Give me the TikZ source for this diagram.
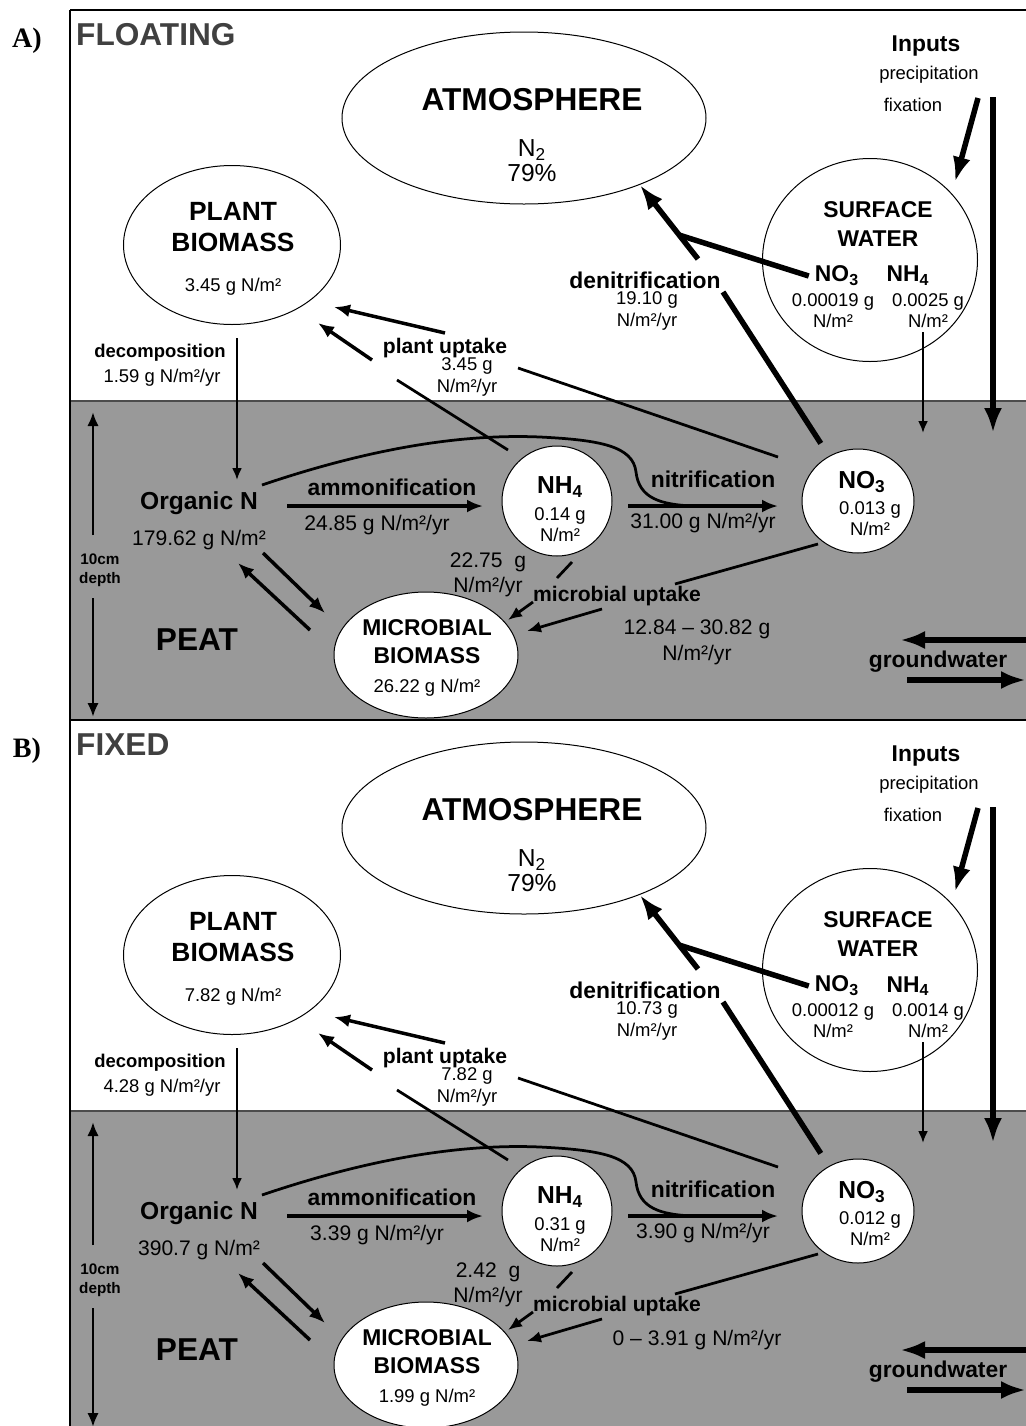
\documentclass[tikz,border=0pt]{standalone}
\usepackage{fontspec}
\setmainfont{Liberation Sans}
\newfontfamily\serifbold{Liberation Serif}
\usetikzlibrary{arrows.meta,shapes.geometric}

\tikzset{
  pool/.style={draw, ellipse, line width=0.2mm, inner sep=0pt},
  soilpool/.style={pool, fill=white},
  bigflow/.style={line width=1.1mm, >={Latex[length=5mm,width=3.6mm]}},
  flow/.style={line width=0.7mm, >={Latex[length=3.2mm,width=2.6mm]}},
  link/.style={line width=0.55mm, >={Latex[length=2.8mm,width=2.3mm]}},
  thinflow/.style={line width=0.45mm, >={Latex[length=2.4mm,width=2mm]}},
  curvy/.style={line width=0.55mm},
  hd/.style={font=\fontsize{18}{21}\selectfont\bfseries},
  bigname/.style={font=\fontsize{15}{17.6}\selectfont\bfseries, align=center},
  subhd/.style={font=\fontsize{13}{16}\selectfont\bfseries, align=center},
  poolname/.style={font=\fontsize{14}{16}\selectfont\bfseries},
  procname/.style={font=\fontsize{12}{14}\selectfont\bfseries},
  gas/.style={font=\fontsize{14}{16}\selectfont},
  rate/.style={font=\fontsize{12}{14.5}\selectfont, align=center},
  val/.style={font=\fontsize{10.5}{12}\selectfont, align=center}
}

% one panel of the nitrogen budget, values come from \p... macros
\newcommand{\nfpanel}{%
  % soil layer and frame
  \fill[black!40] (70,401) rectangle (1026,720);
  \draw[black!70, line width=0.25mm] (70,401) -- (1026,401);
  \draw[line width=0.25mm] (70,10) -- (1026,10);
  \node[font=\serifbold\fontsize{16}{18}\selectfont\bfseries] (tag) at (27,41) {\pTag};
  \node[hd, text=black!75, anchor=west] (title) at (70,35) {\pTitle};
  % pools above ground
  \node[pool, minimum width=72.8mm, minimum height=34.4mm] (atm) at (524,118) {};
  \node[hd] (atm-t) at (532,100) {ATMOSPHERE};
  \node[gas] (atm-n) at (532,150) {N\textsubscript{2}};
  \node[gas] (atm-p) at (532,173) {79\%};
  \node[pool, minimum width=43.4mm, minimum height=31.8mm] (plant) at (232,245) {};
  \node[bigname] (plant-t) at (233,227) {PLANT\\BIOMASS};
  \node[val] (plant-v) at (233,287) {\pPlant\ g N/m²};
  \node[pool, minimum width=43mm, minimum height=40.6mm] (sw) at (870,260) {};
  \node[subhd] (sw-t) at (878,224) {SURFACE\\WATER};
  \node[subhd] (sw-no3) at (837,276) {NO\textsubscript{3}};
  \node[subhd] (sw-nh4) at (908,276) {NH\textsubscript{4}};
  \node[val] (sw-no3v) at (833,311) {\pSwNO\ g\\N/m²};
  \node[val] (sw-nh4v) at (928,311) {\pSwNH\ g\\N/m²};
  \node[subhd] (inp) at (926,46) {Inputs};
  \node[val] (inp-p) at (929,75) {precipitation};
  \node[val] (inp-f) at (913,105) {fixation};
  % pools in the peat
  \node[poolname] (orgn) at (199,503) {Organic N};
  \node[rate] (orgn-v) at (199,540) {\pOrgN\ g N/m²};
  \node[soilpool, minimum size=22mm] (nh4) at (557,501) {};
  \node[poolname] (nh4-t) at (560,487) {NH\textsubscript{4}};
  \node[val] (nh4-v) at (560,525) {\pNH\ g\\N/m²};
  \node[soilpool, minimum width=22.4mm, minimum height=20.8mm] (no3) at (858,501) {};
  \node[poolname] (no3-t) at (862,482) {NO\textsubscript{3}};
  \node[val] (no3-v) at (870,519) {\pNO\ g\\N/m²};
  \node[soilpool, minimum width=36.8mm, minimum height=25.2mm] (mic) at (426,655) {};
  \node[subhd] (mic-t) at (427,642) {MICROBIAL\\BIOMASS};
  \node[val] (mic-v) at (427,688) {\pMic\ g N/m²};
  \node[hd] (peat) at (197,640) {PEAT};
  \node[font=\fontsize{8.7}{10.8}\selectfont\bfseries, align=center] (depth) at (100,570) {10cm\\depth};
  % process labels
  \node[val, font=\fontsize{10.5}{12}\selectfont\bfseries] (dec) at (160,353) {decomposition};
  \node[val] (dec-v) at (162,378) {\pDec\ g N/m²/yr};
  \node[procname] (upt) at (445,348) {plant uptake};
  \node[val] (upt-v) at (467,377) {\pUpt\ g\\N/m²/yr};
  \node[subhd] (den) at (645,280) {denitrification};
  \node[val] (den-v) at (647,311) {\pDen\ g\\N/m²/yr};
  \node[subhd] (amm) at (392,487) {ammonification};
  \node[rate] (amm-v) at (377,525) {\pAmm\ g N/m²/yr};
  \node[subhd] (nit) at (713,479) {nitrification};
  \node[rate] (nit-v) at (703,523) {\pNit\ g N/m²/yr};
  \node[rate] (nhm-v) at (488,575) {\pNhMic\ \ g\\N/m²/yr};
  \node[procname] (mup) at (617,596) {microbial uptake};
  \node[rate, anchor=north] (nom-v) at (697,614) {\pNoMic};
  \node[subhd] (gw) at (938,662) {groundwater};
  % free ends of the flows
  \coordinate (in-a) at (978,98);  \coordinate (in-b) at (955,182);
  \coordinate (in-c) at (993,97);  \coordinate (in-d) at (993,433);
  \coordinate (sw-a) at (923,332); \coordinate (sw-b) at (923,433);
  \coordinate (den-a) at (723,292); \coordinate (den-b) at (698,259);
  \coordinate (den-j) at (679,235);
  \coordinate (upt-a) at (778,457); \coordinate (upt-b) at (518,368);
  \coordinate (upt-c) at (445,333); \coordinate (upt-d) at (334,307);
  \coordinate (upt-e) at (508,450); \coordinate (upt-f) at (397,380);
  \coordinate (upt-g) at (372,360); \coordinate (upt-h) at (318,323);
  \coordinate (dec-a) at (237,338); \coordinate (dec-b) at (237,480);
  \coordinate (amm-a) at (287,506); \coordinate (amm-b) at (483,506);
  \coordinate (nit-a) at (628,506); \coordinate (nit-b) at (778,506);
  \coordinate (dir-a) at (262,485); \coordinate (dir-b) at (695,506);
  \coordinate (om-a) at (263,553); \coordinate (om-b) at (325,613);
  \coordinate (mo-a) at (310,630); \coordinate (mo-b) at (238,563);
  \coordinate (nm-a) at (572,562); \coordinate (nm-b) at (557,578);
  \coordinate (nm-c) at (533,602); \coordinate (nm-d) at (508,620);
  \coordinate (mu-a) at (818,544); \coordinate (mu-b) at (675,584);
  \coordinate (mu-c) at (602,609); \coordinate (mu-d) at (527,631);
  \coordinate (gw-a) at (1026,640); \coordinate (gw-b) at (900,640);
  \coordinate (gw-c) at (907,680); \coordinate (gw-d) at (1026,680);
  \coordinate (dp-a) at (93,535); \coordinate (dp-b) at (93,412);
  \coordinate (dp-c) at (93,598); \coordinate (dp-d) at (93,717);
  % flows
  \draw[bigflow,->] (in-a) -- (in-b);
  \draw[bigflow,->] (in-c) -- (in-d);
  \draw[thinflow,->] (sw-a) -- (sw-b);
  \draw[bigflow, shorten <=3mm] (no3) -- (den-a);
  \draw[bigflow,->] (den-b) -- (atm.-30);
  \draw[bigflow] (sw-no3.west) -- (den-j);
  \draw[link] (upt-a) -- (upt-b);
  \draw[flow,->] (upt-c) -- (upt-d);
  \draw[link] (upt-e) -- (upt-f);
  \draw[flow,->] (upt-g) -- (upt-h);
  \draw[thinflow,->] (dec-a) -- (dec-b);
  \draw[flow,->] (amm-a) -- (amm-b);
  \draw[flow,->] (nit-a) -- (nit-b);
  \draw[curvy] (dir-a) .. controls (380,445) and (470,434) .. (540,437)
    .. controls (600,440) and (633,446) .. (636,472)
    .. controls (639,498) and (660,505) .. (dir-b);
  \draw[flow,->] (om-a) -- (om-b);
  \draw[flow,->] (mo-a) -- (mo-b);
  \draw[link] (nm-a) -- (nm-b);
  \draw[link,->] (nm-c) -- (nm-d);
  \draw[link] (mu-a) -- (mu-b);
  \draw[link,->] (mu-c) -- (mu-d);
  \draw[bigflow,->] (gw-a) -- (gw-b);
  \draw[bigflow,->] (gw-c) -- (gw-d);
  \draw[link,->] (dp-a) -- (dp-b);
  \draw[link,->] (dp-c) -- (dp-d);
}

\begin{document}
\begin{tikzpicture}[x=0.2mm, y=-0.2mm]
\useasboundingbox (0,0) rectangle (1026,1426);
% A) floating mat
\def\pTag{A)}\def\pTitle{FLOATING}\def\pPlant{3.45}\def\pDec{1.59}
\def\pUpt{3.45}\def\pDen{19.10}\def\pSwNO{0.00019}\def\pSwNH{0.0025}
\def\pOrgN{179.62}\def\pAmm{24.85}\def\pNH{0.14}\def\pNit{31.00}
\def\pNO{0.013}\def\pMic{26.22}\def\pNhMic{22.75}
\def\pNoMic{12.84 \textendash{} 30.82 g\\N/m²/yr}
\begin{scope}[name prefix=a-]
\nfpanel
\end{scope}
% B) fixed mat
\def\pTag{B)}\def\pTitle{FIXED}\def\pPlant{7.82}\def\pDec{4.28}
\def\pUpt{7.82}\def\pDen{10.73}\def\pSwNO{0.00012}\def\pSwNH{0.0014}
\def\pOrgN{390.7}\def\pAmm{3.39}\def\pNH{0.31}\def\pNit{3.90}
\def\pNO{0.012}\def\pMic{1.99}\def\pNhMic{2.42}
\def\pNoMic{0 \textendash{} 3.91 g N/m²/yr}
\begin{scope}[name prefix=b-, shift={(0,710)}]
\nfpanel
\end{scope}
\draw[line width=0.25mm] (70,10) -- (70,1426);
\end{tikzpicture}
\end{document}
